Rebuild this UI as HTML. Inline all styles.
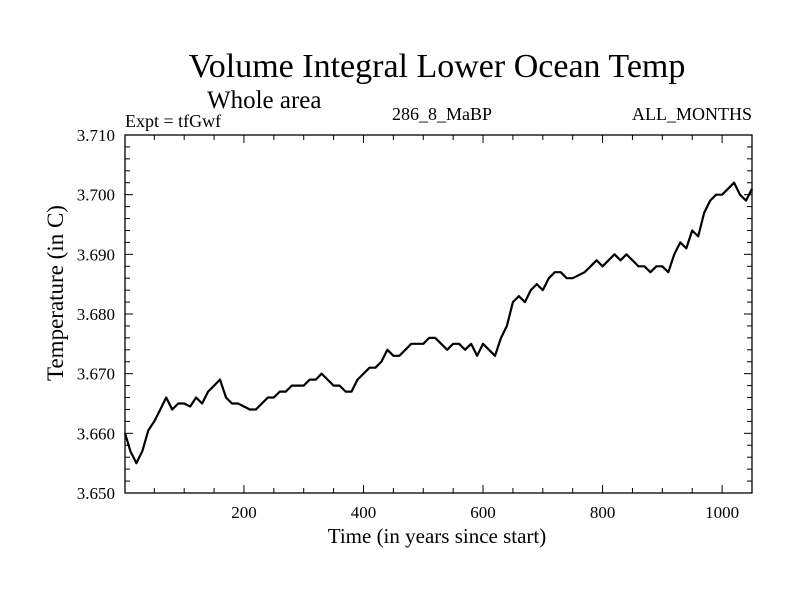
<!DOCTYPE html>
<html><head><meta charset="utf-8"><style>
html,body{margin:0;padding:0;background:#fff;}
svg{display:block;font-family:"Liberation Serif",serif;}
</style></head><body>
<svg id="chart" width="800" height="600">
<text x="437" y="77" font-size="34" text-anchor="middle">Volume Integral Lower Ocean Temp</text>
<text x="207" y="108" font-size="25">Whole area</text>
<text x="125" y="127" font-size="18">Expt = tfGwf</text>
<text x="442" y="120" font-size="18" text-anchor="middle">286_8_MaBP</text>
<text x="752" y="120" font-size="18" text-anchor="end">ALL_MONTHS</text>
<text x="437" y="543" font-size="21" text-anchor="middle">Time (in years since start)</text>
<text transform="translate(63,293) rotate(-90)" font-size="23" text-anchor="middle">Temperature (in C)</text>
<g id="axes"></g>
<path id="series" fill="none" stroke="#000" stroke-width="2.2" stroke-linejoin="round"></path>
<rect x="125" y="135" width="627" height="358" fill="none" stroke="#000" stroke-width="1.3"></rect>
</svg>
<script>
const years = [1,10,20,30,40,50,60,70,80,90,100,110,120,130,140,150,160,170,180,190,200,210,220,230,240,250,260,270,280,290,300,310,320,330,340,350,360,370,380,390,400,410,420,430,440,450,460,470,480,490,500,510,520,530,540,550,560,570,580,590,600,610,620,630,640,650,660,670,680,690,700,710,720,730,740,750,760,770,780,790,800,810,820,830,840,850,860,870,880,890,900,910,920,930,940,950,960,970,980,990,1000,1010,1020,1030,1040,1050];
const temps = [3.660,3.657,3.655,3.657,3.6605,3.662,3.664,3.666,3.664,3.665,3.665,3.6645,3.666,3.665,3.667,3.668,3.669,3.666,3.665,3.665,3.6645,3.664,3.664,3.665,3.666,3.666,3.667,3.667,3.668,3.668,3.668,3.669,3.669,3.670,3.669,3.668,3.668,3.667,3.667,3.669,3.670,3.671,3.671,3.672,3.674,3.673,3.673,3.674,3.675,3.675,3.675,3.676,3.676,3.675,3.674,3.675,3.675,3.674,3.675,3.673,3.675,3.674,3.673,3.676,3.678,3.682,3.683,3.682,3.684,3.685,3.684,3.686,3.687,3.687,3.686,3.686,3.6865,3.687,3.688,3.689,3.688,3.689,3.690,3.689,3.690,3.689,3.688,3.688,3.687,3.688,3.688,3.687,3.690,3.692,3.691,3.694,3.693,3.697,3.699,3.700,3.700,3.701,3.702,3.700,3.699,3.701];
const xTicks = [200,400,600,800,1000];
const yTicks = [3.650,3.660,3.670,3.680,3.690,3.700,3.710];

const X0=125,X1=752,Y0=493,Y1=135,xmin=1,xmax=1050,ymin=3.650,ymax=3.710;
function sx(v){return X0+(v-xmin)/(xmax-xmin)*(X1-X0);}
function sy(v){return Y0-(v-ymin)/(ymax-ymin)*(Y0-Y1);}
const NS="http://www.w3.org/2000/svg";
const g=document.getElementById('axes');
function line(x1,y1,x2,y2,name){
  const l=document.createElementNS(NS,'line');
  l.setAttribute('x1',x1);l.setAttribute('y1',y1);l.setAttribute('x2',x2);l.setAttribute('y2',y2);
  l.setAttribute('stroke','#000');l.setAttribute('stroke-width','1');
  
  
  g.appendChild(l);
}
function text(x,y,s,anchor,name){
  const t=document.createElementNS(NS,'text');
  t.setAttribute('x',x);t.setAttribute('y',y);t.setAttribute('font-size','17');
  t.setAttribute('text-anchor',anchor);t.textContent=s;
  
  
  g.appendChild(t);
}
for(let v=50;v<=1050;v+=50){
  const x=sx(v), major=(v%200===0), len=major?8:5;
  line(x,Y0,x,Y0-len,'x-tick');
  line(x,Y1,x,Y1+len,'x-tick-top');
}
xTicks.forEach(v=>text(sx(v),Y0+25,String(v),'middle','x-tick-label'));
for(let i=0;i<=30;i++){
  const v=ymin+i*0.002, y=sy(v), major=(i%5===0), len=major?8:5;
  line(X0,y,X0+len,y,'y-tick');
  line(X1,y,X1-len,y,'y-tick-right');
}
yTicks.forEach(v=>text(X0-10,sy(v)+6,v.toFixed(3),'end','y-tick-label'));
let d='';
years.forEach((yr,i)=>{d+=(i?'L':'M')+sx(yr).toFixed(1)+','+sy(temps[i]).toFixed(1);});
document.getElementById('series').setAttribute('d',d);
</script>
</body></html>
